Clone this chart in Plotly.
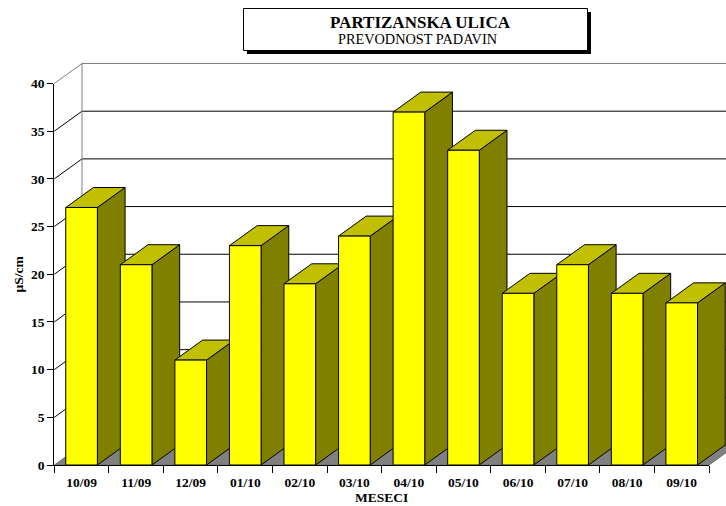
import plotly.graph_objects as go

categories = ["10/09", "11/09", "12/09", "01/10", "02/10", "03/10",
              "04/10", "05/10", "06/10", "07/10", "08/10", "09/10"]
values = [27, 21, 11, 23, 19, 24, 37, 33, 18, 21, 18, 17]
y_ticks = [0, 5, 10, 15, 20, 25, 30, 35, 40]

FONT = "Liberation Serif"
W, H = 726, 506
L, R, T, B = 54.3, 709.0, 83.5, 465.0
BAR_W = 0.58
UX = (R - L) / 12              # pixels per category
UY = (B - T) / 40              # pixels per value unit
DX = 27.7 / UX                 # depth in category units
DY = 20.0 / UY                 # depth in value units


def poly(xs, ys, fill, line="black", width=1):
    return go.Scatter(x=xs, y=ys, mode="lines", fill="toself", fillcolor=fill,
                      line=dict(color=line, width=width), hoverinfo="skip",
                      showlegend=False)


def seg(xs, ys, color):
    return go.Scatter(x=xs, y=ys, mode="lines", line=dict(color=color, width=1),
                      hoverinfo="skip", showlegend=False)


fig = go.Figure()

# floor
fig.add_trace(poly([0, DX, 12 + DX, 12, 0], [0, DY, DY, 0, 0], "#808080", "#707070"))

# walls
for v in y_ticks[1:]:
    c = "#808080" if v == 40 else "black"
    fig.add_trace(seg([0, DX, 12 + DX], [v, v + DY, v + DY], c))
fig.add_trace(seg([DX, DX], [DY, 40 + DY], "#808080"))

# bars, left to right so that each front covers the previous side
for i, v in enumerate(values):
    x0 = i + 0.5 - BAR_W / 2
    x1 = i + 0.5 + BAR_W / 2
    fig.add_trace(poly([x1, x1 + DX, x1 + DX, x1, x1], [0, DY, v + DY, v, 0], "#808000"))
    fig.add_trace(poly([x0, x0 + DX, x1 + DX, x1, x0], [v, v + DY, v + DY, v, v], "#C0C000"))
    fig.add_trace(poly([x0, x1, x1, x0, x0], [0, 0, v, v, 0], "#FFFF00"))

# subplot carrying the visible axes
fig.add_trace(go.Scatter(x=categories, y=values, xaxis="x2", yaxis="y2", mode="markers",
                         marker=dict(opacity=0), hoverinfo="skip", showlegend=False))

shapes = [
    dict(type="rect", xref="paper", yref="paper", x0=247 / W, x1=591 / W,
         y0=1 - 54 / H, y1=1 - 12 / H, fillcolor="black", line=dict(width=0), layer="above"),
    dict(type="rect", xref="paper", yref="paper", x0=243.5 / W, x1=587.5 / W,
         y0=1 - 50.5 / H, y1=1 - 8.5 / H, fillcolor="white",
         line=dict(color="black", width=1), layer="above"),
]


def note(text, x, y, size, angle=0):
    return dict(text=text, xref="paper", yref="paper", x=x / W, y=1 - y / H,
                xanchor="center", yanchor="middle", showarrow=False, textangle=angle,
                font=dict(family=FONT, size=size, color="black"))


annotations = [
    note("<b>PARTIZANSKA ULICA</b>", 420.5, 22.5, 17),
    note("PREVODNOST PADAVIN", 417.5, 39, 14.3),
    note("<b>MESECI</b>", 381.6, 497.5, 13.5),
    note("<b>µS/cm</b>", 17.5, 274, 13.5, -90),
]

fig.update_layout(
    width=W, height=H, paper_bgcolor="white", plot_bgcolor="rgba(0,0,0,0)",
    margin=dict(l=0, r=0, t=0, b=0, pad=0),
    showlegend=False, shapes=shapes, annotations=annotations,
    font=dict(family=FONT, color="black"),
    xaxis=dict(domain=[0, 1], range=[-L / UX, (W - L) / UX], visible=False, fixedrange=True),
    yaxis=dict(domain=[0, 1], range=[-(H - B) / UY, B / UY], visible=False, fixedrange=True),
    xaxis2=dict(
        domain=[L / W, R / W], anchor="y2",
        type="category", categoryorder="array", categoryarray=categories, range=[-0.5, 11.5],
        tickson="boundaries", ticks="outside", ticklen=7, tickcolor="black", tickwidth=1,
        showline=True, linecolor="black", linewidth=1, showgrid=False, zeroline=False,
        ticklabelstandoff=5, automargin=False,
        tickfont=dict(family=FONT, size=13.5, color="black", weight="bold"),
    ),
    yaxis2=dict(
        domain=[1 - B / H, 1 - T / H], anchor="x2", range=[0, 40],
        tickvals=y_ticks, ticks="outside", ticklen=6, tickcolor="black", tickwidth=1,
        showline=True, linecolor="black", linewidth=1, showgrid=False, zeroline=False,
        automargin=False,
        tickfont=dict(family=FONT, size=13.5, color="black", weight="bold"),
    ),
)

fig.write_html("out.html", config={"displayModeBar": False},
               post_script="document.body.style.margin='0';")
